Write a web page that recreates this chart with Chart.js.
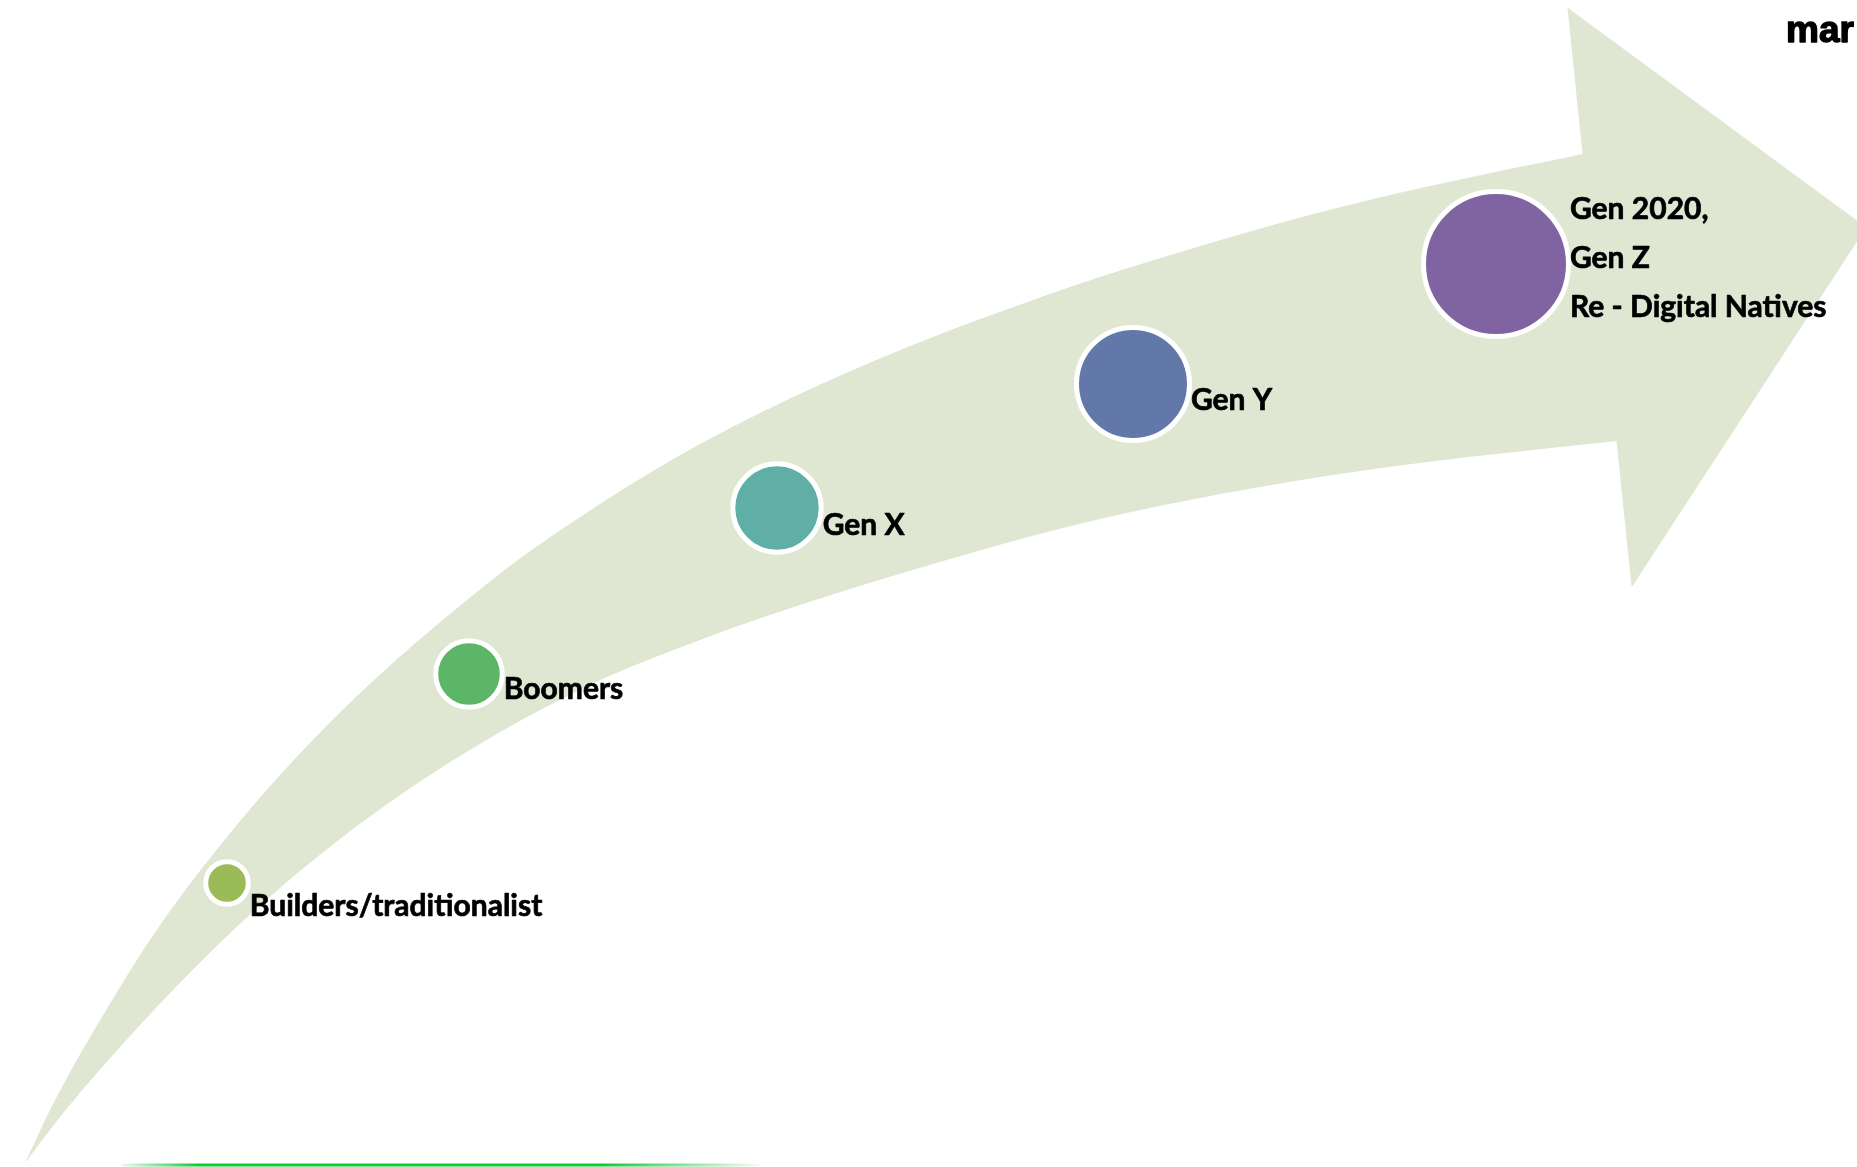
<!DOCTYPE html>
<html>
<head>
<meta charset="utf-8">
<script src="https://cdn.jsdelivr.net/npm/chart.js@4/dist/chart.umd.min.js"></script>
<style>
  html, body { margin: 0; padding: 0; background: #ffffff; overflow: hidden; }
  #wrap { width: 1857px; height: 1167px; position: relative; }
  canvas { display: block; }
</style>
</head>
<body>
<div id="wrap"><canvas id="c" width="1857" height="1167"></canvas></div>
<script>
// ---------- data ----------
const generations = [
  ["Builders/traditionalist"],
  ["Boomers"],
  ["Gen X"],
  ["Gen Y"],
  ["Gen 2020,", "Gen Z", "Re - Digital Natives"]
];
const bubbleX = [227, 469, 777, 1133, 1496];
const bubbleY = [883, 674, 508, 384, 264];
const bubbleR = [21.3, 33.3, 44.2, 56.5, 72.5];

// arrow outline (in canvas units)
const arrowOuterEdge = [[25,1163],[53,1104],[108,1007],[170,911],[307,746],[488,583],[600,504],[700,444],[817,386],[933,337],[1033,300],[1100,277],[1333,209],[1583,154],[1640,143]];
const arrowInnerEdge = [[25,1163],[60,1117],[105,1064],[175,988],[255,910],[340,839],[455,759],[590,685],[700,640],[767,616],[933,564],[1100,519],[1333,475],[1617,441],[1680,435]];
const arrowHead = [[1568,8],[1583,154],[1617,441],[1632,586],[1866,227]];
const baseLine = [[123,1165],[758,1165]];
const cornerText = "mar";

// ---------- styles ----------
const bubbleColors = ["#9BBB59", "#5DB568", "#5FAFA7", "#6178A8", "#8064A2"];
const arrowColor = "#DFE7D2";

const toXY = arr => arr.map(p => ({x: p[0], y: p[1]}));

const labelPlugin = {
  id: 'genLabels',
  afterDatasetsDraw(chart, args, opts) {
    const ctx = chart.ctx;
    const meta = chart.getDatasetMeta(0);
    ctx.save();
    ctx.fillStyle = opts.color;
    ctx.strokeStyle = opts.color;
    ctx.lineJoin = 'round';
    ctx.textBaseline = 'alphabetic';
    ctx.textAlign = 'left';
    ctx.font = opts.font;
    ctx.lineWidth = opts.textStroke;
    meta.data.forEach((el, i) => {
      const r = el.options.radius + el.options.borderWidth / 2;
      const x = el.x + r + opts.gap;
      const y0 = el.y + opts.dy[i];
      generations[i].forEach((t, j) => {
        ctx.fillText(t, x, y0 + j * opts.lineHeight);
        ctx.strokeText(t, x, y0 + j * opts.lineHeight);
      });
    });
    ctx.font = opts.cornerFont;
    ctx.lineWidth = 1.4;
    ctx.fillText(cornerText, opts.cornerX, opts.cornerY);
    ctx.strokeText(cornerText, opts.cornerX, opts.cornerY);
    ctx.restore();
  }
};

new Chart(document.getElementById('c'), {
  type: 'bubble',
  data: {
    datasets: [
      {
        label: 'generations',
        data: bubbleX.map((x, i) => ({x, y: bubbleY[i], r: bubbleR[i]})),
        backgroundColor: bubbleColors,
        borderColor: '#ffffff',
        borderWidth: 5,
        hoverBorderWidth: 5,
        order: 0
      },
      {
        type: 'line',
        label: 'arrowOuter',
        data: toXY(arrowOuterEdge),
        fill: '+1',
        backgroundColor: arrowColor,
        borderColor: 'rgba(0,0,0,0)',
        borderWidth: 0,
        pointRadius: 0,
        cubicInterpolationMode: 'monotone',
        order: 5
      },
      {
        type: 'line',
        label: 'arrowInner',
        data: toXY(arrowInnerEdge),
        fill: false,
        borderColor: 'rgba(0,0,0,0)',
        borderWidth: 0,
        pointRadius: 0,
        cubicInterpolationMode: 'monotone',
        order: 6
      },
      {
        type: 'line',
        label: 'arrowHead',
        data: toXY(arrowHead),
        fill: 'shape',
        backgroundColor: arrowColor,
        borderColor: arrowColor,
        borderWidth: 1,
        pointRadius: 0,
        tension: 0,
        order: 4
      },
      {
        type: 'line',
        label: 'baseline',
        data: toXY(baseLine),
        fill: false,
        borderWidth: 3,
        pointRadius: 0,
        borderCapStyle: 'round',
        borderColor: (c) => {
          const chart = c.chart;
          const xs = chart.scales && chart.scales.x;
          const x0 = xs ? xs.getPixelForValue(baseLine[0][0]) : NaN;
          const x1 = xs ? xs.getPixelForValue(baseLine[1][0]) : NaN;
          if (!isFinite(x0) || !isFinite(x1) || !chart.chartArea) return 'rgba(0,200,40,0.95)';
          const g = chart.ctx.createLinearGradient(x0, 0, x1, 0);
          g.addColorStop(0, 'rgba(0,200,40,0.1)');
          g.addColorStop(0.12, 'rgba(0,200,40,0.95)');
          g.addColorStop(0.75, 'rgba(0,200,40,0.95)');
          g.addColorStop(1, 'rgba(0,200,40,0.05)');
          return g;
        },
        order: 1
      }
    ]
  },
  options: {
    responsive: false,
    animation: false,
    devicePixelRatio: 1,
    layout: { padding: 0, autoPadding: false },
    events: [],
    scales: {
      x: { type: 'linear', min: 0, max: 1857, display: false },
      y: { type: 'linear', min: 0, max: 1167, reverse: true, display: false }
    },
    plugins: {
      legend: { display: false },
      tooltip: { enabled: false },
      genLabels: {
        font: "700 30px Lato",
        textStroke: 0.7,
        color: "#000000",
        gap: -1,
        dy: [33, 25, 27, 26, -45.5],
        lineHeight: 49,
        cornerFont: "700 37px 'Liberation Sans'",
        cornerX: 1786,
        cornerY: 42
      }
    }
  },
  plugins: [labelPlugin]
});
</script>
</body>
</html>
